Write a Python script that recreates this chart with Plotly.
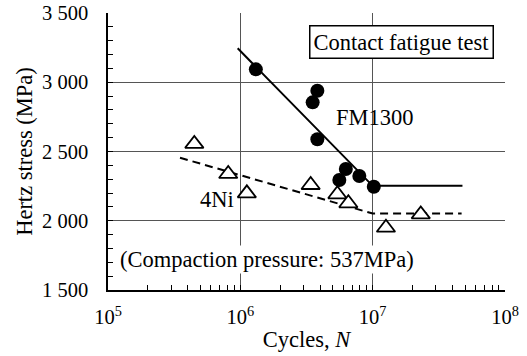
import plotly.graph_objects as go

# FM1300 (filled circles)
fm_cycles = [1.31e6, 3.82e6, 3.52e6, 3.82e6, 6.27e6, 5.6e6, 7.93e6, 1.02e7]
fm_stress = [3093, 2939, 2855, 2588, 2374, 2294, 2323, 2246]
# 4Ni (open triangles)
ni_cycles = [4.49e5, 8.1e5, 1.12e6, 3.4e6, 5.41e6, 6.55e6, 1.26e7, 2.31e7]
ni_stress = [2555, 2338, 2198, 2258, 2191, 2126, 1950, 2046]
# Fitted S-N lines
fm_fit_cycles = [9.55e5, 1.0e7, 4.77e7]
fm_fit_stress = [3245, 2252, 2252]
ni_fit_cycles = [3.5e5, 1.0e7, 4.7e7]
ni_fit_stress = [2455, 2052, 2052]

x_tickvals = [1e5, 1e6, 1e7, 1e8]
x_ticktext = ["10<sup>5</sup>", "10<sup>6</sup>", "10<sup>7</sup>", "10<sup>8</sup>"]
y_tickvals = [1500, 2000, 2500, 3000, 3500]
y_ticktext = ["1 500", "2 000", "2 500", "3 000", "3 500"]

FONT = "Liberation Serif"
FS = 22.5
TFS = 20.5

fig = go.Figure()
fig.add_trace(go.Scatter(x=fm_fit_cycles, y=fm_fit_stress, mode="lines",
                         line=dict(color="black", width=2), showlegend=False))
fig.add_trace(go.Scatter(x=ni_fit_cycles, y=ni_fit_stress, mode="lines",
                         line=dict(color="black", width=2, dash="8px,5px"), showlegend=False))
fig.add_trace(go.Scatter(x=fm_cycles, y=fm_stress, mode="markers",
                         marker=dict(symbol="circle", size=14, color="black"), showlegend=False))
fig.add_trace(go.Scatter(x=ni_cycles, y=ni_stress, mode="markers",
                         marker=dict(symbol="triangle-up", size=16, color="white",
                                     line=dict(color="black", width=1.8)), showlegend=False))

fig.add_annotation(x=7.218, y=3290, text="Contact fatigue test", showarrow=False,
                   font=dict(family=FONT, size=FS, color="black"),
                   bgcolor="white", bordercolor="black", borderwidth=1.5, borderpad=3)
fig.add_annotation(x=7.018, y=2742, text="FM1300", showarrow=False,
                   font=dict(family=FONT, size=FS, color="black"))
fig.add_annotation(x=5.822, y=2157, text="4Ni", showarrow=False,
                   font=dict(family=FONT, size=FS, color="black"))
fig.add_annotation(x=5.078, y=1717, text="(Compaction pressure: 537MPa)", showarrow=False,
                   xanchor="left", bgcolor="white",
                   font=dict(family=FONT, size=FS, color="black"))

fig.update_xaxes(type="log", range=[5, 8], tickmode="array", tickvals=x_tickvals,
                 ticktext=x_ticktext, showgrid=True, gridcolor="#555555", gridwidth=1,
                 showline=True, linecolor="black", linewidth=1.5,
                 ticks="inside", ticklen=5, tickcolor="black", ticklabelstandoff=8,
                 minor=dict(ticks="inside", ticklen=5, tickcolor="black", dtick="D1", showgrid=False),
                 tickfont=dict(family=FONT, size=TFS, color="black"),
                 title=dict(text="Cycles, <i>N</i>", font=dict(family=FONT, size=FS, color="black"),
                            standoff=4),
                 automargin=False, zeroline=False)
fig.update_yaxes(range=[1500, 3500], tickmode="array", tickvals=y_tickvals,
                 ticktext=y_ticktext, showgrid=True, gridcolor="#555555", gridwidth=1,
                 showline=True, linecolor="black", linewidth=1.5,
                 ticks="inside", ticklen=5, tickcolor="black", ticklabelstandoff=14,
                 minor=dict(ticks="inside", ticklen=5, tickcolor="black", dtick=100, showgrid=False),
                 tickfont=dict(family=FONT, size=TFS, color="black"),
                 title=dict(text="Hertz stress (MPa)", font=dict(family=FONT, size=FS, color="black"),
                            standoff=3),
                 automargin=False, zeroline=False)

fig.update_layout(width=527, height=356, margin=dict(l=108, r=22, t=13, b=66),
                  plot_bgcolor="white", paper_bgcolor="white", showlegend=False)

fig.write_html("out.html", config={"displayModeBar": False},
               post_script="document.body.style.margin='0';")
